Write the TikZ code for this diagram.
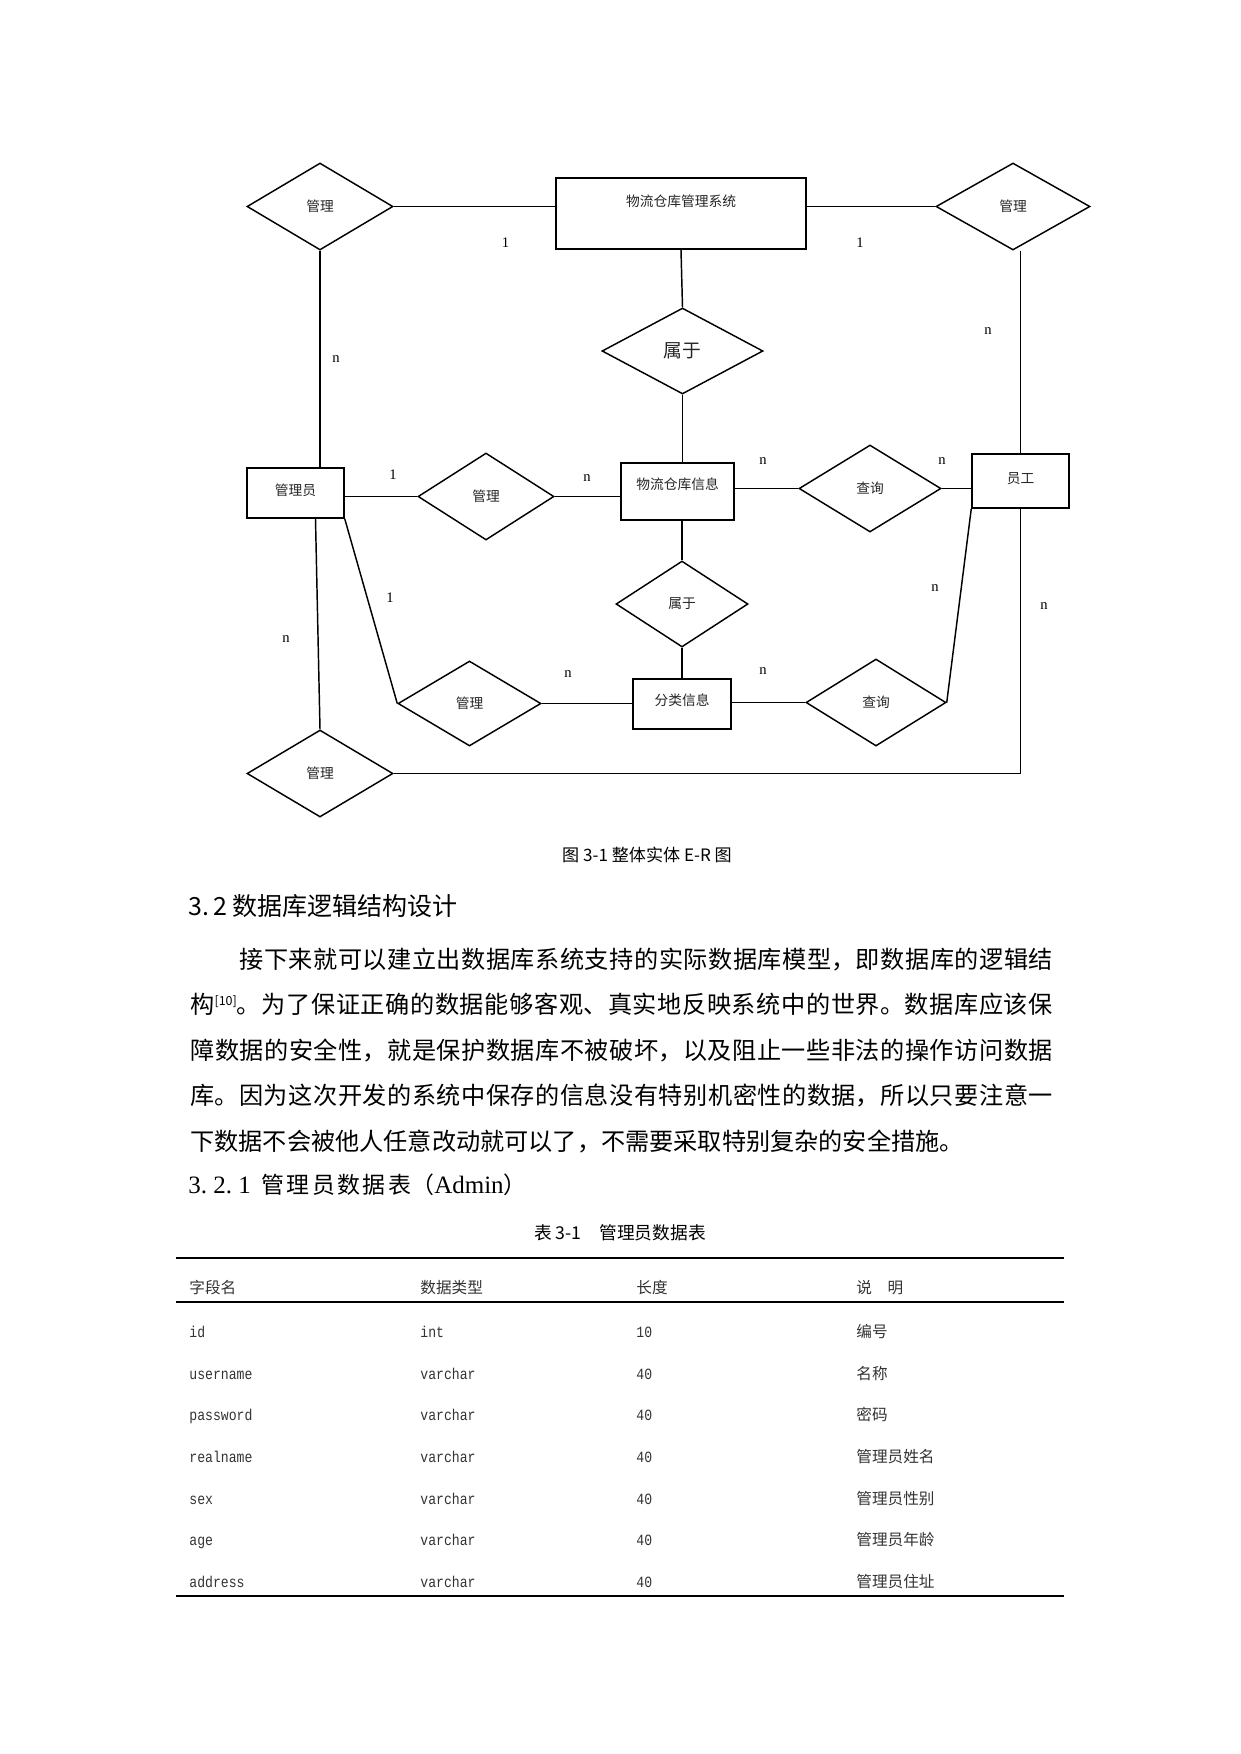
\documentclass[tikz,border=0pt]{standalone}
\usepackage{fontspec}
\setmainfont{Liberation Serif}
\newfontfamily\cjk{Noto Sans CJK SC}
\newfontfamily\tmono[FakeStretch=0.84]{Liberation Mono}
\newfontfamily\tser{Liberation Serif}
\usetikzlibrary{shapes.geometric,calc}
\XeTeXlinebreaklocale "zh"
\XeTeXlinebreakskip=0pt plus 2pt
\tikzset{
  ln/.style={line width=0.7pt},
  sz/.style 2 args={minimum width=#1*0.48pt, minimum height=#2*0.48pt},
  ent/.style={draw, rectangle, line width=0.7pt, inner sep=0pt, text=black!85,
    font=\cjk\fontsize{6.6}{8}\selectfont, text height=6pt},
  rel/.style={draw, diamond, line width=0.7pt, inner sep=0pt, text=black!85,
    font=\cjk\fontsize{6.6}{8}\selectfont},
  lab/.style={inner sep=0pt, font=\tser\fontsize{7}{8}\selectfont},
  cell/.style={anchor=base west, inner sep=0pt, text=black!80, font=\tmono\fontsize{7.5}{9}\selectfont},
  ccell/.style={anchor=base west, inner sep=0pt, text=black!80, font=\cjk\fontsize{7.5}{9}\selectfont},
}
\begin{document}
\begin{tikzpicture}[x=0.48pt, y=-0.48pt]
\fill[white] (0,0) rectangle (1241,1754);
\useasboundingbox (0,0) rectangle (1241,1754);

% ---------- entities ----------
\node[ent, sz={250}{71}, text depth=13pt] (sys) at (681,213.5) {物流仓库管理系统};
\node[ent, sz={113}{57}, text depth=8.2pt] (info) at (677.5,491.5) {物流仓库信息};
\node[ent, sz={97}{50}, text depth=3.9pt] (admin) at (295.5,493) {管理员};
\node[ent, sz={97}{54}, text depth=3.9pt] (emp) at (1020.5,481) {员工};
\node[ent, sz={98}{50}, text depth=4.8pt] (cat) at (682,704) {分类信息};

% ---------- relationships ----------
\node[rel, sz={146}{87}] (d1) at (320,206.5) {管理};
\node[rel, sz={154}{87}] (d2) at (1013,206.5) {管理};
\node[rel, sz={161}{86}, font=\cjk\fontsize{9}{10}\selectfont] (b1) at (682.5,351) {属于};
\node[rel, sz={136}{87}] (d3) at (486,496.5) {管理};
\node[rel, sz={142}{87}] (q1) at (870,488.5) {查询};
\node[rel, sz={132}{86}] (b2) at (682,604) {属于};
\node[rel, sz={143}{85}] (d4) at (469.5,703.5) {管理};
\node[rel, sz={140}{87}] (q2) at (876,702.5) {查询};
\node[rel, sz={146}{87}] (d5) at (320,773.5) {管理};

% ---------- connectors ----------
\draw[ln] (d1.east) -- (d1.east -| sys.west);
\draw[ln] (sys.east |- d2.west) -- (d2.west);
\draw[ln] (d1.south) -- (d1.south |- admin.north);
\draw[ln] (emp.north |- d2.south) -- (emp.north);
\draw[ln] (sys.south) -- (b1.north);
\draw[ln] (b1.south) -- (b1.south |- info.north);
\draw[ln] (b2.north |- info.south) -- (b2.north);
\draw[ln] (b2.south) -- (b2.south |- cat.north);
\draw[ln] (admin.east |- d3.west) -- (d3.west);
\draw[ln] (d3.east) -- (d3.east -| info.west);
\draw[ln] (info.east |- q1.west) -- (q1.west);
\draw[ln] (q1.east) -- (q1.east -| emp.west);
\draw[ln] ($(admin.south)+(20,0)$) -- (d5.north);
\draw[ln] (admin.south east) -- (d4.west);
\draw[ln] (d4.east) -- (d4.east -| cat.west);
\draw[ln] (cat.east |- q2.west) -- (q2.west);
\draw[ln] (q2.east) -- (emp.south west);
\draw[ln] (emp.south) |- (d5.east);

% ---------- cardinality labels ----------
\node[lab] (c1) at (505.5,243) {1};
\node[lab] (c2) at (860,243) {1};
\node[lab] (c3) at (336,359) {n};
\node[lab] (c4) at (988,331) {n};
\node[lab] (c5) at (393,475) {1};
\node[lab] (c6) at (587,478) {n};
\node[lab] (c7) at (763,461) {n};
\node[lab] (c8) at (942,461) {n};
\node[lab] (c9) at (390,598) {1};
\node[lab] (c10) at (286,639) {n};
\node[lab] (c11) at (568,674) {n};
\node[lab] (c12) at (763,671) {n};
\node[lab] (c13) at (935,588) {n};
\node[lab] (c14) at (1044,606) {n};

% ---------- page text ----------
\node[anchor=base, inner sep=0pt, font=\cjk\fontsize{8.2}{10}\selectfont] (cap) at (647,861.5) {图 3-1 整体实体 E-R 图};
\node[anchor=base west, inner sep=0pt, font=\cjk\fontsize{12}{14}\selectfont] (h32) at (188,915) {3.\kern2pt 2 数据库逻辑结构设计};
\node[anchor=base west, inner sep=0pt, text width=414pt, align=justify,
      font=\cjk\fontsize{11.6}{21.84}\selectfont] (para) at (190,968)
{\parindent=0pt\tolerance=9999\hspace*{23.5pt}接下来就可以建立出数据库系统支持的实际数据库模型，即数据库的逻辑结\linebreak
构\raisebox{4pt}{\fontsize{6}{6}\selectfont[10]}。为了保证正确的数据能够客观、真实地反映系统中的世界。数据库应该保\linebreak
障数据的安全性，就是保护数据库不被破坏，以及阻止一些非法的操作访问数据\linebreak
库。因为这次开发的系统中保存的信息没有特别机密性的数据，所以只要注意一\linebreak
下数据不会被他人任意改动就可以了，不需要采取特别复杂的安全措施。};
\node[anchor=base west, inner sep=0pt] (h321) at (188,1193)
  {{\tser\fontsize{12}{14}\selectfont 3.\ 2.\ 1}\hspace{5pt}{\cjk\fontsize{11}{14}\selectfont 管\kern1.2pt 理\kern1.2pt 员\kern1.2pt 数\kern1.2pt 据\kern1.2pt 表（}{\tser\fontsize{12}{14}\selectfont Admin}{\cjk\fontsize{11}{14}\selectfont ）}};

% ---------- table ----------
\node[anchor=base, inner sep=0pt, font=\cjk\fontsize{8.5}{10}\selectfont] (tcap) at (620,1239) {表 3-1\quad 管理员数据表};
\draw[line width=1.4pt] (176,1258) -- (1064,1258);
\draw[line width=0.9pt] (176,1302) -- (1064,1302);
\draw[line width=1.4pt] (176,1596) -- (1064,1596);

\node[ccell] (th1) at (189,1293) {字段名};
\node[ccell] (th2) at (420,1293) {数据类型};
\node[ccell] (th3) at (636,1293) {长度};
\node[ccell] (th4) at (856,1293) {说\quad 明};

\foreach \y/\a/\b/\c/\d [count=\i] in {
  1337/id/int/10/编号,
  1379/username/varchar/40/名称,
  1420/password/varchar/40/密码,
  1462/realname/varchar/40/管理员姓名,
  1504/sex/varchar/40/管理员性别,
  1545/age/varchar/40/管理员年龄,
  1587/address/varchar/40/管理员住址}{
  \node[cell] (ra\i) at (189,\y) {\a};
  \node[cell] (rb\i) at (420,\y) {\b};
  \node[cell] (rc\i) at (636,\y) {\c};
  \node[ccell] (rd\i) at (856,\y) {\d};
}
\end{tikzpicture}
\end{document}
